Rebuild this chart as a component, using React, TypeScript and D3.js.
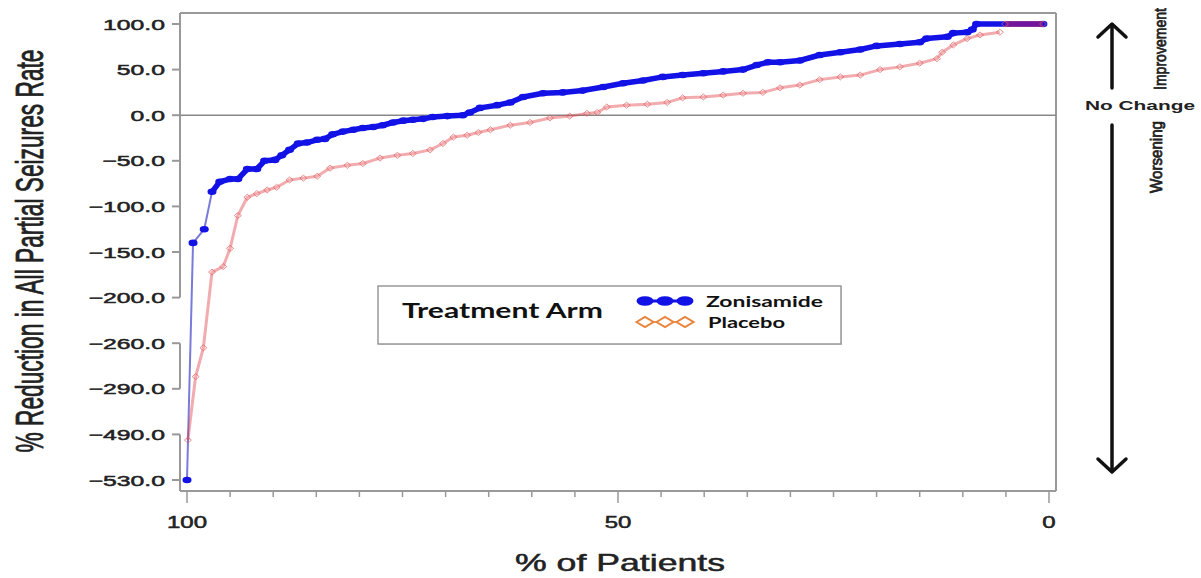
import * as d3 from 'd3';
import {useEffect} from 'react';

// % of patients (x, reversed) and % reduction in seizure rate (y)
const zonPct = [100, 99.3, 98.0, 97.1, 96.2, 95.0, 94.1, 93.0, 91.9, 91.0, 89.8, 89.0, 88.1, 87.1, 86.1, 84.9, 84.0, 83.1, 81.9, 80.7, 79.6, 78.4, 77.3, 76.1, 74.9, 73.8, 72.6, 71.5, 69.8, 68.0, 67.2, 66.0, 64.0, 62.5, 61.0, 58.7, 56.4, 54.1, 51.7, 49.4, 47.1, 44.8, 42.5, 40.1, 37.8, 35.5, 33.9, 32.6, 31.2, 28.9, 26.6, 24.2, 21.9, 20.0, 17.3, 15.0, 14.2, 11.8, 11.1, 9.5, 8.9, 8.4, 0.7];
const zonVal = [-530, -140, -125, -84, -73, -70, -70, -59, -59, -50, -49, -44, -38, -31, -30, -27, -26, -21, -18, -16, -14, -13, -11, -8, -6, -5, -4, -2, -1, 0, 3, 8, 11, 14, 20, 24, 25, 27, 31, 35, 38, 42, 44, 46, 48, 50, 55, 58, 58, 60, 66, 69, 72, 76, 78, 80, 84, 86, 90, 91, 94, 100, 100];

const plaPct = [99.9, 99.0, 98.1, 97.1, 95.8, 95.0, 94.1, 93.0, 91.9, 90.7, 89.6, 88.1, 86.5, 84.9, 83.4, 81.4, 79.6, 77.6, 75.6, 73.8, 71.8, 70.3, 69.1, 67.5, 66.2, 64.8, 62.5, 60.2, 57.9, 55.6, 53.6, 52.4, 51.3, 49.0, 46.6, 44.3, 42.5, 40.1, 37.8, 35.5, 33.2, 31.2, 28.9, 26.6, 24.2, 21.9, 19.6, 17.3, 15.0, 13.0, 12.4, 11.1, 9.5, 8.0, 5.7, 5.1, 0.7];
const plaVal = [-495, -282, -263, -172, -166, -146, -110, -90, -86, -82, -79, -71, -69, -67, -58, -55, -53, -47, -44, -42, -38, -31, -24, -22, -19, -16, -11, -8, -3, -1, 2, 3, 9, 11, 12, 14, 19, 20, 22, 24, 25, 30, 33, 39, 42, 44, 50, 53, 57, 62, 69, 77, 84, 88, 91, 100, 100];

// broken y axis: each tick gets the same spacing
const yTicks = [100, 50, 0, -50, -100, -150, -200, -260, -290, -490, -530];
const xMajor = [100, 50, 0];
const xMinor = d3.range(0, 101, 5);

const FONT = 'Liberation Sans, Arial, Helvetica, sans-serif';
const LEG_FONT = 'Lato, Open Sans, sans-serif';

// the source picture is stretched sideways, so text gets an x scale
function SText({x, y, sx = 1.6, rot = false, children, ...rest}: any) {
  return (
    <text transform={`translate(${x},${y}) scale(${sx},1)${rot ? ' rotate(-90)' : ''}`} {...rest}>
      {children}
    </text>
  );
}

export default function App() {
  useEffect(() => { document.body.style.margin = '0'; }, []);

  const x = d3.scaleLinear().domain([100, 0]).range([187, 1049]);
  const yTop = 24, yBot = 480;
  const step = (yBot - yTop) / (yTicks.length - 1);
  const breaks = [-530, -490, -290, -260, -200, 100];
  const y = d3.scaleLinear()
    .domain(breaks)
    .range(breaks.map(v => v === 100 ? yTop : yTop + yTicks.indexOf(v) * step));

  const frame = {l: 180, r: 1056, t: 13, b: 491};

  const zon = zonPct.map((p, i) => [x(p), y(zonVal[i])] as [number, number]);
  const pla = plaPct.map((p, i) => [x(p), y(plaVal[i])] as [number, number]);
  const line = d3.line();

  const fmt = (v: number) => (v < 0 ? '\u2212' : '') + Math.abs(v).toFixed(1);

  // left axis drawn in pieces to show the breaks
  const segs = [[100, -200], [-260, -290], [-490, -530]];

  const diamond = (cx: number, cy: number, w: number, h: number) =>
    `M${cx - w},${cy}L${cx},${cy - h}L${cx + w},${cy}L${cx},${cy + h}Z`;

  const heavy = {stroke: '#222', strokeWidth: 0.5};

  return (
    <div style={{position: 'absolute', left: 0, top: 0}}>
      <svg width={1201} height={578} style={{display: 'block', background: '#fff'}} fontFamily={FONT}>
        {/* frame */}
        <line x1={frame.l} x2={frame.r} y1={frame.t} y2={frame.t} stroke="#999" strokeWidth={2} />
        <line x1={frame.r} x2={frame.r} y1={frame.t} y2={frame.b} stroke="#999" strokeWidth={2} />
        <line x1={frame.l} x2={frame.r} y1={frame.b} y2={frame.b} stroke="#999" strokeWidth={2} />
        {segs.map(([a, b], i) => (
          <line key={i} x1={frame.l} x2={frame.l}
            y1={i === 0 ? frame.t : y(a)} y2={i === 2 ? frame.b : y(b)} stroke="#999" strokeWidth={2} />
        ))}
        {/* zero reference */}
        <line x1={frame.l} x2={frame.r} y1={y(0)} y2={y(0)} stroke="#888" strokeWidth={1.5} />

        {/* y ticks */}
        {yTicks.map(v => (
          <g key={v}>
            <line x1={frame.l - 8} x2={frame.l} y1={y(v)} y2={y(v)} stroke="#999" strokeWidth={2} />
            <SText x={165} y={y(v) + 5.5} sx={1.65} textAnchor="end" fontSize={15} fill="#222" {...heavy}>{fmt(v)}</SText>
          </g>
        ))}

        {/* x ticks */}
        {xMinor.map(v => (
          <line key={v} x1={x(v)} x2={x(v)} y1={frame.b} y2={frame.b + (v % 50 === 0 ? 12 : 6)} stroke="#999" strokeWidth={1.5} />
        ))}
        {xMajor.map(v => (
          <SText key={v} x={x(v)} y={528} sx={1.5} textAnchor="middle" fontSize={16} fill="#222" {...heavy}>{v}</SText>
        ))}

        {/* titles */}
        <SText x={620} y={571} sx={1.55} textAnchor="middle" fontSize={23} fill="#222" {...heavy}>% of Patients</SText>
        <SText x={43} y={251} sx={1.65} rot textAnchor="middle" fontSize={23} textLength={403}
          lengthAdjust="spacingAndGlyphs" fill="#222" {...heavy}>% Reduction in All Partial Seizures Rate</SText>

        {/* zonisamide */}
        <path d={line(zon) || ''} fill="none" stroke="#7a7ad8" strokeWidth={2} />
        <path d={line(zon.slice(3)) || ''} fill="none" stroke="#1212e6" strokeWidth={5.5} strokeLinejoin="round" />
        {zon.map(([cx, cy], i) => (
          <ellipse key={i} cx={cx} cy={cy} rx={4.5} ry={3.3} fill="#1212e6" />
        ))}

        {/* placebo, half transparent so the shared 100% run turns purple */}
        <path d={line(pla.slice(0, -2)) || ''} fill="none" stroke="#e03a40" strokeWidth={3} opacity={0.42} strokeLinejoin="round" />
        <path d={line(pla.slice(-2)) || ''} fill="none" stroke="#c01860" strokeWidth={6} opacity={0.55} />
        {pla.map(([cx, cy], i) => (
          <path key={i} d={diamond(cx, cy, 3.5, 3)} fill="none" stroke="#e06060" strokeWidth={1} opacity={0.7} />
        ))}

        {/* legend */}
        <rect x={379} y={287} width={463} height={58} fill="#aaa" opacity={0.5} />
        <rect x={378} y={286} width={463} height={58} fill="#fff" stroke="#999" strokeWidth={1.5} />
        <text x={402} y={318} fontFamily={LEG_FONT} fontWeight="bold" fontSize={20} fill="#111"
          textLength={201} lengthAdjust="spacingAndGlyphs">Treatment Arm</text>
        <line x1={645} x2={685} y1={301} y2={301} stroke="#1212e6" strokeWidth={3} />
        {[645, 665, 685].map(cx => <ellipse key={cx} cx={cx} cy={301} rx={8.5} ry={4.8} fill="#1212e6" />)}
        <line x1={637} x2={693} y1={322} y2={322} stroke="#e8843c" strokeWidth={1.5} />
        {[645, 665, 685].map(cx => (
          <path key={cx} d={diamond(cx, 322, 8.5, 5)} fill="#fff" stroke="#e8843c" strokeWidth={2} />
        ))}
        <text x={706} y={307} fontFamily={LEG_FONT} fontWeight="bold" fontSize={15} fill="#111"
          textLength={117} lengthAdjust="spacingAndGlyphs">Zonisamide</text>
        <text x={708} y={328} fontFamily={LEG_FONT} fontWeight="bold" fontSize={15} fill="#111"
          textLength={77} lengthAdjust="spacingAndGlyphs">Placebo</text>

        {/* improvement / worsening arrows */}
        <g stroke="#111" strokeWidth={3.5} fill="none" strokeLinecap="round" strokeLinejoin="round">
          <line x1={1112} x2={1112} y1={25} y2={88} />
          <polyline points="1098,37 1112,24 1126,37" />
          <line x1={1112} x2={1112} y1={125} y2={471} />
          <polyline points="1098,459 1112,472 1126,459" />
        </g>
        <text x={1140} y={110} textAnchor="middle" fontWeight="bold" fontSize={13} fill="#222"
          textLength={110} lengthAdjust="spacingAndGlyphs">No Change</text>
        <SText x={1166} y={49} sx={1.5} rot textAnchor="middle" fontSize={11} textLength={82}
          lengthAdjust="spacingAndGlyphs" fill="#222" {...heavy}>Improvement</SText>
        <SText x={1162} y={157} sx={1.5} rot textAnchor="middle" fontSize={11} textLength={72}
          lengthAdjust="spacingAndGlyphs" fill="#222" {...heavy}>Worsening</SText>
      </svg>
    </div>
  );
}
